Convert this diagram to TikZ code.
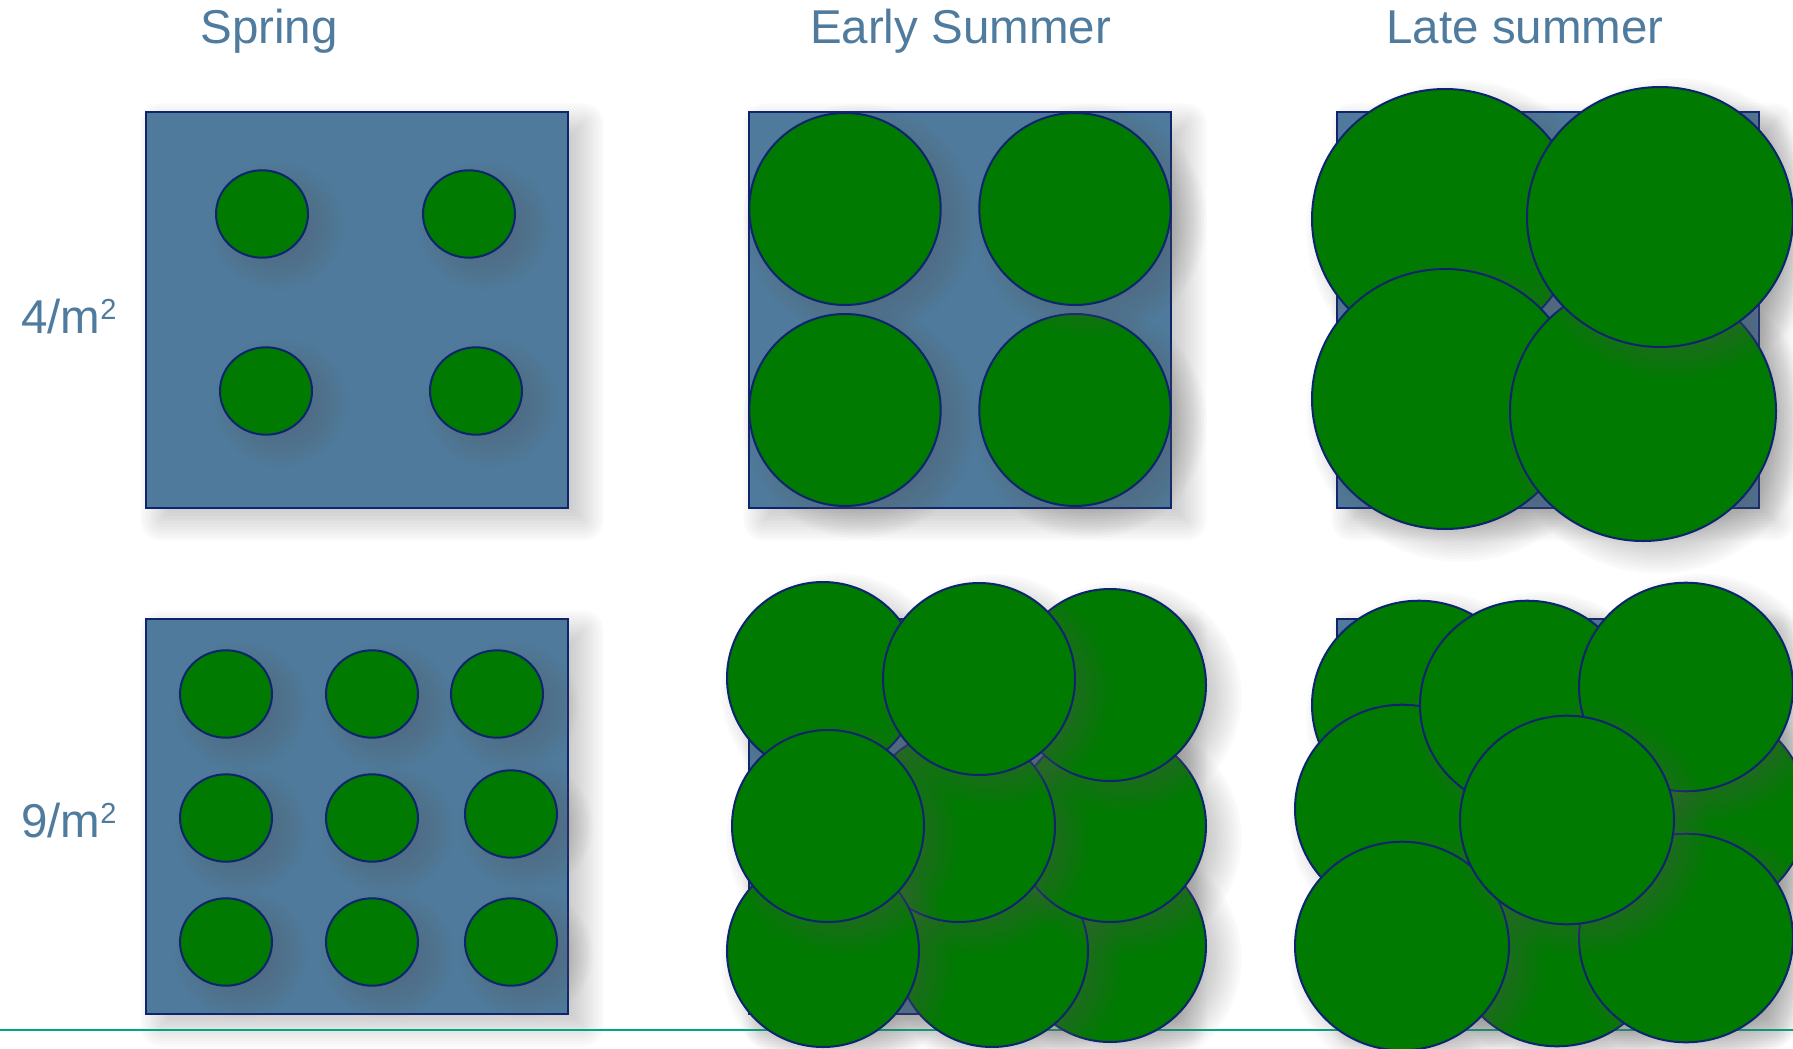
\documentclass[tikz,border=0pt]{standalone}
\usepackage{fontspec}
\setmainfont{Liberation Sans}
\definecolor{txtblue}{RGB}{79,124,158}
\definecolor{sqfill}{RGB}{79,122,155}
\definecolor{navy}{RGB}{14,36,110}
\definecolor{leaf}{RGB}{0,122,0}
\definecolor{rulegreen}{RGB}{0,166,128}
\definecolor{shcol}{RGB}{105,105,105}
\def\shx{15}
\def\shy{12}
\def\shb{22}
\tikzset{
  ttl/.style={text=txtblue, font=\fontsize{47.5}{57}\selectfont, inner sep=0pt},
  bedstyle/.style={draw=navy, fill=sqfill, line width=2pt},
  plantstyle/.style={draw=navy, fill=leaf, line width=2pt},
  shadowlayer/.style={fill=shcol, fill opacity=0.028},
}
\newcommand{\bed}[4]{%
  \foreach \k in {1,...,16}{%
    \pgfmathsetmacro\dd{\shb*(1-(2*\k-1)/16)}%
    \pgfmathsetmacro\rc{max(\dd,0.01)}%
    \pgfmathsetmacro\ax{#1+\shx-\dd}%
    \pgfmathsetmacro\ay{#2+\shy-\dd}%
    \pgfmathsetmacro\bx{#3+\shx+\dd}%
    \pgfmathsetmacro\by{#4+\shy+\dd}%
    \fill[shadowlayer, rounded corners=\rc pt] (\ax,\ay) rectangle (\bx,\by);
  }%
  \draw[bedstyle] (#1,#2) rectangle (#3,#4);
}
\newcommand{\plant}[4]{%
  \foreach \k in {1,...,16}{%
    \pgfmathsetmacro\dd{\shb*(1-(2*\k-1)/16)}%
    \pgfmathsetmacro\rxx{#3+\dd}%
    \pgfmathsetmacro\ryy{#4+\dd}%
    \pgfmathsetmacro\cx{#1+\shx}%
    \pgfmathsetmacro\cy{#2+\shy}%
    \fill[shadowlayer] (\cx,\cy) ellipse [x radius=\rxx, y radius=\ryy];
  }%
  \draw[plantstyle] (#1,#2) ellipse [x radius=#3, y radius=#4];
}
\begin{document}
\begin{tikzpicture}[x=1pt,y=-1pt]
\useasboundingbox (0,0) rectangle (1793,1049);
\fill[white] (0,0) rectangle (1793,1049);
\clip (0,0) rectangle (1793,1049);

% titles and labels
\node[ttl, anchor=base] (spring) at (269,44) {Spring};
\node[ttl, anchor=base] (early) at (960.5,44) {Early Summer};
\node[ttl, anchor=base] (late) at (1525,44) {Late summer};
\node[ttl, anchor=base west] (d4) at (21,333) {4/m\raisebox{14pt}{\fontsize{29}{29}\selectfont 2}};
\node[ttl, anchor=base west] (d9) at (21,837) {9/m\raisebox{14pt}{\fontsize{29}{29}\selectfont 2}};

% beds
\bed{146}{112}{568}{508}
\bed{749}{112}{1171}{508}
\bed{1337}{112}{1759}{508}
\bed{146}{619}{568}{1014}
\bed{749}{619}{1171}{1014}
\bed{1337}{619}{1759}{1014}

% rule
\coordinate (ruleL) at (0,1030);
\coordinate (ruleR) at (1793,1030);
\draw[rulegreen, line width=2pt] (ruleL) -- (ruleR);

% Spring 4/m2
\plant{262}{214}{46}{43.7}
\plant{469}{214}{46}{43.7}
\plant{266}{391}{46}{43.7}
\plant{476}{391}{46}{43.7}

% Spring 9/m2
\plant{226}{694}{46}{43.7}
\plant{372}{694}{46}{43.7}
\plant{497}{694}{46}{43.7}
\plant{226}{818}{46}{43.7}
\plant{372}{818}{46}{43.7}
\plant{511}{814}{46}{43.7}
\plant{226}{942}{46}{43.7}
\plant{372}{942}{46}{43.7}
\plant{511}{942}{46}{43.7}

% Early summer 4/m2
\plant{845}{209}{95.7}{96}
\plant{1075}{410}{95.7}{96}
\plant{1075}{209}{95.7}{96}
\plant{845}{410}{95.7}{96}

% Late summer 4/m2
\plant{1445}{219}{133}{130}
\plant{1445}{399}{133}{130}
\plant{1643}{411}{133}{130}
\plant{1660}{217}{133}{130}

% Early summer 9/m2
\plant{1110}{946}{96}{96}
\plant{992}{951}{96}{96}
\plant{1110}{826}{96}{96}
\plant{959}{826}{96}{96}
\plant{823}{951}{96}{96}
\plant{823}{678}{96}{96}
\plant{828}{826}{96}{96}
\plant{1110}{685}{96}{96}
\plant{979}{679}{96}{96}

% Late summer 9/m2
\plant{1700}{811}{107}{104.3}
\plant{1557}{942}{107}{104.3}
\plant{1686}{938}{107}{104.3}
\plant{1419}{705}{107}{104.3}
\plant{1402}{809}{107}{104.3}
\plant{1527}{705}{107}{104.3}
\plant{1686}{687}{107}{104.3}
\plant{1402}{946}{107}{104.3}
\plant{1567}{820}{107}{104.3}
\end{tikzpicture}
\end{document}
